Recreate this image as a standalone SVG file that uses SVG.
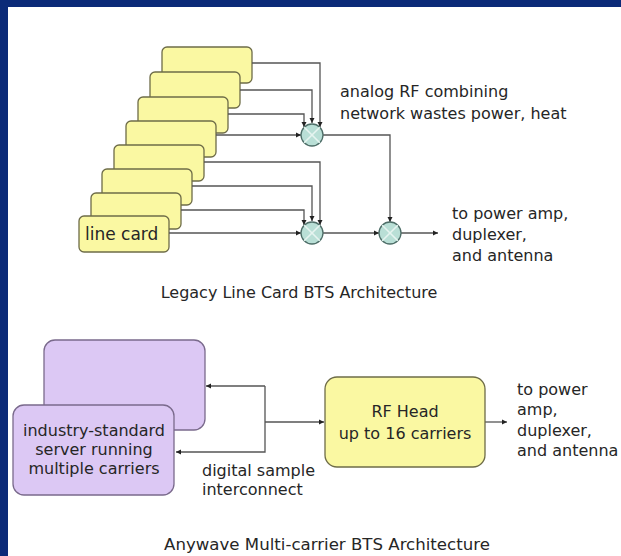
<svg xmlns="http://www.w3.org/2000/svg" width="621" height="556" viewBox="0 0 621 556">
<style>
text{font-family:"DejaVu Sans","Liberation Sans",sans-serif;fill:#262626;font-size:16px}
.card{fill:#FAF8A2;stroke:#6e6c48;stroke-width:1.3}
.srv{fill:#DCC8F4;stroke:#7a6a8c;stroke-width:1.3}
.mix circle{fill:#B9DFD6;stroke:#4e6e68;stroke-width:1.3}
.mix path{stroke:#E6F4F0;stroke-width:1.6;fill:none}
.c{fill:none;stroke:#555;stroke-width:1.3;marker-end:url(#ah)}
.mid{text-anchor:middle}
</style>
<defs>
<marker id="ah" markerWidth="6" markerHeight="6" refX="5" refY="3" orient="auto" markerUnits="userSpaceOnUse">
<path d="M0,0.5 L5,3 L0,5.5 Z" fill="#222"/>
</marker>
</defs>
<rect x="0" y="0" width="621" height="556" fill="#0B2A78"/>
<rect x="8" y="7" width="613" height="549" fill="#FFFFFF"/>

<g id="cards">
<g id="card8"><rect class="card" x="162" y="47" width="90" height="36" rx="5"/></g>
<g id="card7"><rect class="card" x="150" y="72" width="90" height="36" rx="5"/></g>
<g id="card6"><rect class="card" x="138" y="97" width="90" height="36" rx="5"/></g>
<g id="card5"><rect class="card" x="126" y="121" width="90" height="36" rx="5"/></g>
<g id="card4"><rect class="card" x="114" y="145" width="90" height="36" rx="5"/></g>
<g id="card3"><rect class="card" x="102" y="169" width="90" height="36" rx="5"/></g>
<g id="card2"><rect class="card" x="91" y="193" width="90" height="36" rx="5"/></g>
<g id="card1"><rect class="card" x="79" y="216" width="90" height="36" rx="5"/><text x="85" y="240" style="font-size:17px">line card</text></g>
</g>

<g id="connectors">
<polyline class="c" points="252,63 320,63 320,127"/>
<polyline class="c" points="240,90 312,90 312,123"/>
<polyline class="c" points="228,114 304,114 304,127"/>
<polyline class="c" points="216,135 301,135"/>
<polyline class="c" points="204,162 320,162 320,225"/>
<polyline class="c" points="192,186 312,186 312,221"/>
<polyline class="c" points="181,210 304,210 304,225"/>
<polyline class="c" points="169,233 301,233"/>
<polyline class="c" points="323,135 390,135 390,222"/>
<polyline class="c" points="323,233 379,233"/>
<polyline class="c" points="401,233 438,233"/>
<polyline class="c" points="265,386 206,386"/>
<polyline class="c" points="265,386 265,452 176,452"/>
<polyline class="c" points="265,422 324,422"/>
<polyline class="c" points="485,422 507,422"/>
</g>

<g id="mixer1" class="mix"><circle cx="312" cy="135" r="11"/><path d="M304.2,127.2 L319.8,142.8 M319.8,127.2 L304.2,142.8"/></g>
<g id="mixer2" class="mix"><circle cx="312" cy="233" r="11"/><path d="M304.2,225.2 L319.8,240.8 M319.8,225.2 L304.2,240.8"/></g>
<g id="mixer3" class="mix"><circle cx="390" cy="233" r="11"/><path d="M382.2,225.2 L397.8,240.8 M397.8,225.2 L382.2,240.8"/></g>

<g id="label-analog">
<text x="340" y="97">analog RF combining</text>
<text x="340" y="119">network wastes power, heat</text>
</g>
<g id="label-out1">
<text x="452" y="219">to power amp,</text>
<text x="452" y="240">duplexer,</text>
<text x="452" y="261">and antenna</text>
</g>
<text id="title1" x="299" y="298" class="mid">Legacy Line Card BTS Architecture</text>

<g id="server-back"><rect class="srv" x="44" y="340" width="161" height="90" rx="11"/></g>
<g id="server-front"><rect class="srv" x="13" y="405" width="161" height="90" rx="11"/>
<text x="94" y="436" class="mid">industry-standard</text>
<text x="94" y="455" class="mid">server running</text>
<text x="94" y="474" class="mid">multiple carriers</text>
</g>
<g id="rfhead"><rect class="card" x="325" y="377" width="160" height="90" rx="12"/>
<text x="405" y="417" class="mid">RF Head</text>
<text x="405" y="439" class="mid">up to 16 carriers</text>
</g>
<g id="label-digital">
<text x="202" y="476">digital sample</text>
<text x="202" y="495">interconnect</text>
</g>
<g id="label-out2">
<text x="517" y="395">to power</text>
<text x="517" y="415">amp,</text>
<text x="517" y="436">duplexer,</text>
<text x="517" y="456">and antenna</text>
</g>
<text id="title2" x="327" y="550" class="mid" style="font-size:16.6px">Anywave Multi-carrier BTS Architecture</text>
</svg>
